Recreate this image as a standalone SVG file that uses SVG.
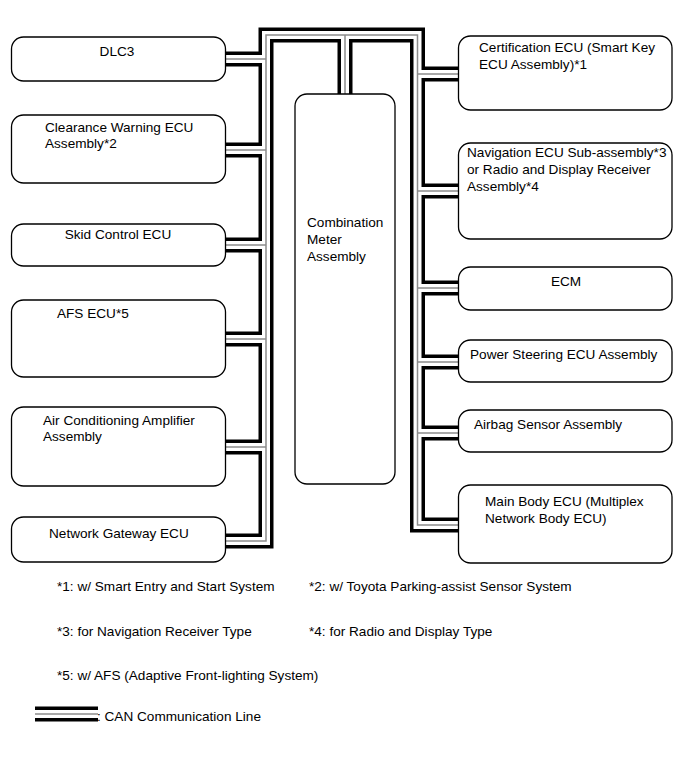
<svg xmlns="http://www.w3.org/2000/svg" xmlns:xlink="http://www.w3.org/1999/xlink" width="691" height="757" viewBox="0 0 691 757">
<style>
.box{fill:#fff;stroke:#000;stroke-width:1.3}
.t{font-family:"Liberation Sans",Arial,sans-serif;font-size:13.6px;fill:#000}
.c{text-anchor:middle}
.bk{fill:none;stroke:#000;stroke-width:15;stroke-linejoin:miter}
.wh{fill:none;stroke:#fff;stroke-width:8;stroke-linejoin:miter}
.gr{fill:none;stroke:#8c8c8c;stroke-width:1.5;stroke-linejoin:miter}
</style>
<defs>
<path id="bus" d="M225 541H266V35H417.5V525H458.5 M225 59H266 M225 150H266 M225 245H266 M225 339H266 M225 447H266 M458.5 74H417.5 M458.5 191H417.5 M458.5 288H417.5 M458.5 362H417.5 M458.5 433H417.5 M345 35V94"/>
<path id="leg" d="M35 714H98"/>
</defs>
<g id="connectors">
<use xlink:href="#bus" class="bk"/>
<use xlink:href="#bus" class="wh"/>
<use xlink:href="#bus" class="gr"/>
</g>
<g id="dlc3"><rect class="box" x="11.5" y="37" width="214" height="44" rx="12"/><text class="t c" x="117" y="56">DLC3</text></g>
<g id="clearance"><rect class="box" x="11.5" y="115" width="214" height="68" rx="12"/><text class="t" x="45" y="132">Clearance Warning ECU</text><text class="t" x="45" y="148">Assembly*2</text></g>
<g id="skid"><rect class="box" x="11.5" y="224" width="214" height="42" rx="12"/><text class="t c" x="118" y="239">Skid Control ECU</text></g>
<g id="afs"><rect class="box" x="11.5" y="300" width="214" height="77" rx="12"/><text class="t" x="57" y="318">AFS ECU*5</text></g>
<g id="aircon"><rect class="box" x="11.5" y="407" width="214" height="79" rx="12"/><text class="t" x="43" y="425">Air Conditioning Amplifier</text><text class="t" x="43" y="441">Assembly</text></g>
<g id="gateway"><rect class="box" x="11.5" y="517" width="214" height="45" rx="12"/><text class="t" x="49" y="538">Network Gateway ECU</text></g>
<g id="meter"><rect class="box" x="295" y="94" width="100" height="390" rx="12"/><text class="t" x="307" y="227">Combination</text><text class="t" x="307" y="244">Meter</text><text class="t" x="307" y="261">Assembly</text></g>
<g id="cert"><rect class="box" x="458.5" y="36" width="213.5" height="74" rx="12"/><text class="t" x="479" y="52">Certification ECU (Smart Key</text><text class="t" x="479" y="69">ECU Assembly)*1</text></g>
<g id="nav"><rect class="box" x="458.5" y="143" width="213.5" height="96" rx="12"/><text class="t" x="467" y="157">Navigation ECU Sub-assembly*3</text><text class="t" x="467" y="174">or Radio and Display Receiver</text><text class="t" x="467" y="191">Assembly*4</text></g>
<g id="ecm"><rect class="box" x="458.5" y="267" width="213.5" height="43" rx="12"/><text class="t c" x="566" y="286">ECM</text></g>
<g id="ps"><rect class="box" x="458.5" y="340" width="213.5" height="42" rx="12"/><text class="t" x="470" y="359">Power Steering ECU Assembly</text></g>
<g id="airbag"><rect class="box" x="458.5" y="410" width="213.5" height="42" rx="12"/><text class="t" x="474" y="429">Airbag Sensor Assembly</text></g>
<g id="mainbody"><rect class="box" x="458.5" y="485" width="213.5" height="78" rx="12"/><text class="t" x="485" y="506">Main Body ECU (Multiplex</text><text class="t" x="485" y="523">Network Body ECU)</text></g>
<g id="notes">
<text class="t" x="57" y="591">*1: w/ Smart Entry and Start System</text>
<text class="t" x="309" y="591">*2: w/ Toyota Parking-assist Sensor System</text>
<text class="t" x="57" y="636">*3: for Navigation Receiver Type</text>
<text class="t" x="309" y="636">*4: for Radio and Display Type</text>
<text class="t" x="57" y="680">*5: w/ AFS (Adaptive Front-lighting System)</text>
</g>
<g id="legend">
<use xlink:href="#leg" class="bk"/>
<use xlink:href="#leg" class="wh"/>
<use xlink:href="#leg" class="gr"/>
<text class="t" x="97" y="721">: CAN Communication Line</text>
</g>
</svg>
